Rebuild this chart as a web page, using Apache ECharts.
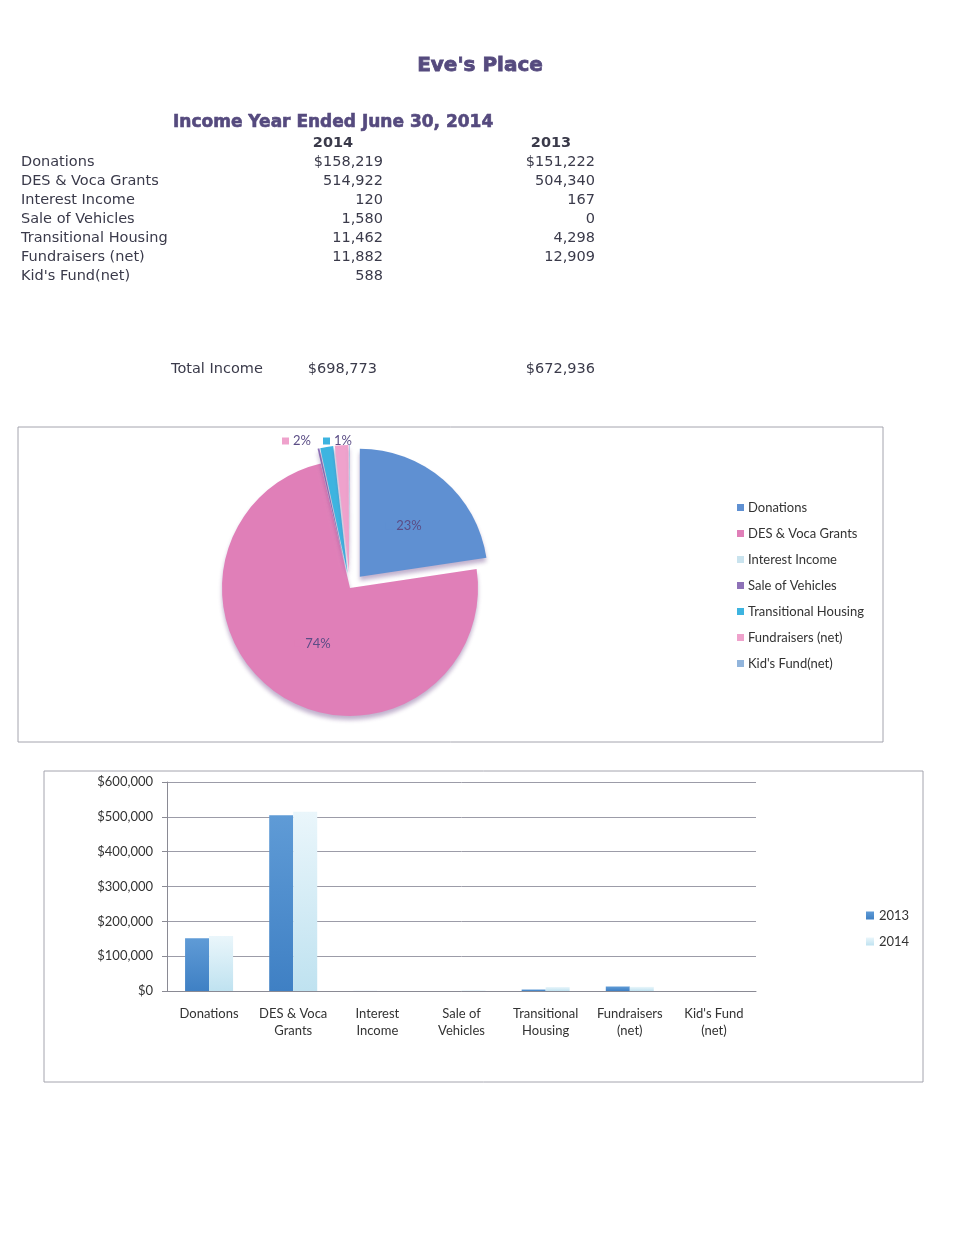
<!DOCTYPE html>
<html><head><meta charset="utf-8">
<script src="https://cdn.jsdelivr.net/npm/echarts@6/dist/echarts.min.js"></script>
<style>html,body{margin:0;padding:0;background:#fff}#c{width:960px;height:1240px}</style>
</head><body><div id="c"></div>
<script>
// ---- data ----
const categories = ['Donations', 'DES & Voca Grants', 'Interest Income', 'Sale of Vehicles', 'Transitional Housing', 'Fundraisers (net)', "Kid's Fund(net)"];
const barLabels = ['Donations', 'DES & Voca\nGrants', 'Interest\nIncome', 'Sale of\nVehicles', 'Transitional\nHousing', 'Fundraisers\n(net)', "Kid's Fund\n(net)"];
const income2014 = [158219, 514922, 120, 1580, 11462, 11882, 588];
const income2013 = [151222, 504340, 167, 0, 4298, 12909, null];
const pieLabels = ['23%', '74%', '', '', '1%', '2%', ''];
const yearNames = ['2013', '2014'];
const pageTitle = "Eve's Place";
const tableTitle = 'Income Year Ended June 30, 2014';
const totalLabel = 'Total Income';

// ---- styles ----
const pieColors = ['#5f90d2', '#e07fb8', '#c9e3ee', '#8e72b8', '#3db4e0', '#efa2cc', '#92b5dc'];
const textColor = '#3a3a4a';
const titleColor = '#554a7e';
const pctColor = '#5b4d86';
const tableFont = '14.5px "DejaVu Sans"';

function fmt(v, dollar) {
  if (v === null || v === undefined) return '';
  return (dollar ? '$' : '') + v.toLocaleString('en-US');
}
function txt(x, y, text, font, fill, align, stroke) {
  const s = { text: text, font: font, fill: fill, align: align || 'left', textAlign: align || 'left', verticalAlign: 'middle', textVerticalAlign: 'middle' };
  if (stroke) { s.stroke = fill; s.lineWidth = stroke; }
  return { type: 'text', x: x, y: y, silent: true, style: s };
}
const total2014 = income2014.reduce((a, b) => a + (b || 0), 0);
const total2013 = income2013.reduce((a, b) => a + (b || 0), 0);

const graphic = [];
graphic.push({ type: 'rect', shape: { x: 18, y: 427, width: 865, height: 315 }, style: { fill: 'none', stroke: '#a4a4ae', lineWidth: 1 }, silent: true });
graphic.push({ type: 'rect', shape: { x: 44, y: 771, width: 879, height: 311 }, style: { fill: 'none', stroke: '#a4a4ae', lineWidth: 1 }, silent: true });
graphic.push(txt(480, 66, pageTitle, 'bold 20px "DejaVu Sans"', titleColor, 'center', 0.8));
graphic.push(txt(173, 123, tableTitle, 'bold 17px "DejaVu Sans"', titleColor, 'left', 0.6));
graphic.push(txt(333, 143, yearNames[1], 'bold 14.5px "DejaVu Sans"', textColor, 'center'));
graphic.push(txt(551, 143, yearNames[0], 'bold 14.5px "DejaVu Sans"', textColor, 'center'));
categories.forEach(function (c, i) {
  const y = 162 + 19 * i;
  graphic.push(txt(21, y, c, tableFont, textColor, 'left'));
  graphic.push(txt(383, y, fmt(income2014[i], i === 0), tableFont, textColor, 'right'));
  graphic.push(txt(595, y, fmt(income2013[i], i === 0), tableFont, textColor, 'right'));
});
graphic.push(txt(171, 369, totalLabel, tableFont, textColor, 'left'));
graphic.push(txt(377, 369, fmt(total2014, true), tableFont, textColor, 'right'));
graphic.push(txt(595, 369, fmt(total2013, true), tableFont, textColor, 'right'));

// labels of the two thin slices sit in a row above the pie
const smallLabelSpot = { 5: [282, 441], 4: [323, 441] };
Object.keys(smallLabelSpot).forEach(function (k) {
  const p = smallLabelSpot[k];
  graphic.push({ type: 'rect', silent: true, shape: { x: p[0], y: p[1] - 3.5, width: 7, height: 7 }, style: { fill: pieColors[k] } });
  graphic.push(txt(p[0] + 11, p[1], pieLabels[k], '13px Lato', pctColor, 'left'));
});

const rich = { t: { color: pctColor, fontSize: 13, fontFamily: 'Lato', padding: [0, 0, 0, 4] } };
pieColors.forEach(function (c, i) { rich['k' + i] = { width: 7, height: 7, backgroundColor: c }; });

const pieData = categories.map(function (n, i) {
  const item = { name: n, value: income2014[i], selected: i !== 1, itemStyle: { color: pieColors[i] } };
  item.label = (i <= 1 && pieLabels[i]) ? { show: true, position: 'inside' } : { show: false };
  return item;
});

const chart = echarts.init(document.getElementById('c'), null, { renderer: 'canvas' });
chart.setOption({
  animation: false,
  backgroundColor: '#ffffff',
  graphic: graphic,
  legend: [
    { data: categories, left: 732, top: 496, orient: 'vertical', icon: 'rect', itemWidth: 7, itemHeight: 7, itemGap: 13,
      textStyle: { fontFamily: 'Lato', fontSize: 13, color: '#333', padding: [0, 0, 0, -1] } },
    { data: yearNames, left: 861, top: 904, orient: 'vertical', icon: 'rect', itemWidth: 8, itemHeight: 8, itemGap: 13,
      textStyle: { fontFamily: 'Lato', fontSize: 13, color: '#333' } }
  ],
  grid: { left: 167, right: 204, top: 782, bottom: 249 },
  xAxis: {
    type: 'category', data: barLabels,
    axisLine: { lineStyle: { color: '#8a8a94' } },
    axisTick: { length: 5, lineStyle: { color: '#8a8a94' } },
    axisLabel: { color: '#333', fontFamily: 'Lato', fontSize: 13, lineHeight: 17, margin: 14, interval: 0 }
  },
  yAxis: {
    type: 'value', min: 0, max: 600000, interval: 100000,
    axisLine: { show: true, lineStyle: { color: '#8a8a94' } },
    axisTick: { show: true, length: 5, lineStyle: { color: '#8a8a94' } },
    axisLabel: { color: '#333', fontFamily: 'Lato', fontSize: 13, margin: 14, formatter: function (v) { return '$' + v.toLocaleString('en-US'); } },
    splitLine: { lineStyle: { color: '#9c9ca8' } }
  },
  series: [
    {
      type: 'pie', name: 'Income 2014', center: [350, 588], radius: 128, startAngle: 90, clockwise: true,
      selectedMode: 'multiple', selectedOffset: 15, avoidLabelOverlap: false,
      data: pieData,
      label: {
        formatter: function (p) { return '{k' + p.dataIndex + '|}{t|' + pieLabels[p.dataIndex] + '}'; },
        rich: rich
      },
      labelLine: { show: false },
      itemStyle: { shadowColor: 'rgba(100,60,130,0.4)', shadowBlur: 4, shadowOffsetY: 4 },
      emphasis: { scale: false }
    },
    {
      type: 'bar', name: yearNames[0], data: income2013, barWidth: 24, barGap: '0%',
      itemStyle: { color: new echarts.graphic.LinearGradient(0, 0, 0, 1, [{ offset: 0, color: '#5f9bd6' }, { offset: 1, color: '#3f80c4' }]) }
    },
    {
      type: 'bar', name: yearNames[1], data: income2014, barWidth: 24, barGap: '0%',
      itemStyle: { color: new echarts.graphic.LinearGradient(0, 0, 0, 1, [{ offset: 0, color: '#eaf6fb' }, { offset: 1, color: '#bfe2f0' }]) }
    }
  ]
});
</script>
</body></html>
